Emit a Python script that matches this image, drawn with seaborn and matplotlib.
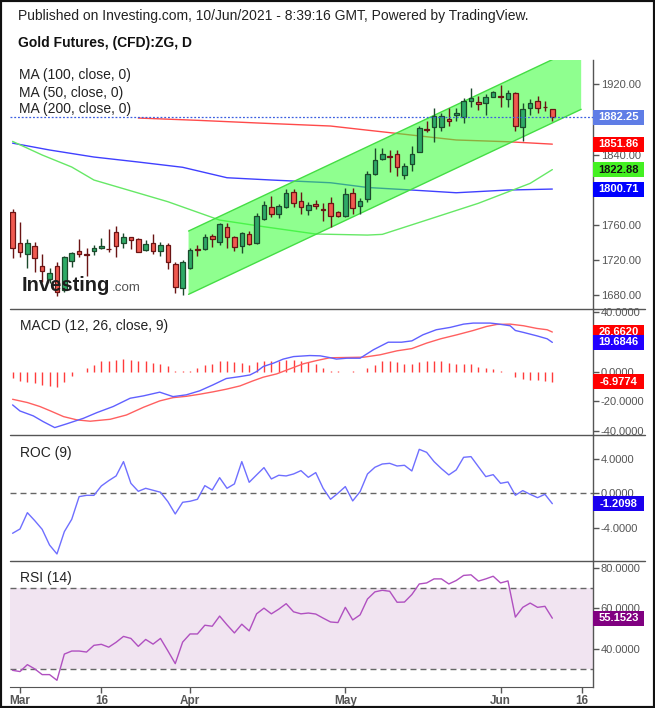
import numpy as np
import pandas as pd
import matplotlib
matplotlib.use("Agg")
import matplotlib.pyplot as plt
import seaborn as sns
from matplotlib.patches import Rectangle, Polygon
from matplotlib.lines import Line2D

sns.set_style("white")
plt.rcParams['font.family'] = ['Liberation Sans', 'DejaVu Sans']

# ---------------- DATA ----------------
opens = [1774.2, 1738.9, 1726.3, 1735.4, 1712.7, 1698.2, 1712.7, 1685.7, 1719.1, 1729.8,
         1726.3, 1730.5, 1733.9, 1732.8, 1751.4, 1739.6, 1745.7, 1743.8, 1730.9, 1739.2,
         1730.5, 1736.6, 1714.9, 1687.6, 1711.1, 1732.0, 1732.0, 1746.8, 1740.0, 1757.1,
         1745.7, 1735.5, 1749.1, 1738.9, 1766.2, 1779.9, 1772.7, 1780.6, 1797.0, 1787.1,
         1776.5, 1783.3, 1777.6, 1784.4, 1774.2, 1770.4, 1795.8, 1781.0, 1789.0, 1817.4,
         1835.3, 1837.9, 1840.2, 1816.3, 1828.8, 1843.3, 1869.5, 1871.7, 1871.7, 1880.1,
         1885.4, 1883.1, 1901.4, 1899.5, 1899.1, 1905.9, 1906.7, 1902.9, 1909.7, 1871.7,
         1893.4, 1901.4, 1894.5, 1891.5]
highs = [1778.0, 1762.8, 1743.8, 1740.0, 1726.3, 1711.1, 1718.0, 1724.8, 1729.4, 1743.8,
         1733.9, 1737.0, 1745.3, 1755.2, 1759.0, 1750.2, 1746.5, 1745.3, 1742.7, 1749.1,
         1740.0, 1738.9, 1717.2, 1719.9, 1733.9, 1737.0, 1749.5, 1749.1, 1762.4, 1761.6,
         1747.6, 1751.8, 1752.9, 1773.0, 1787.1, 1792.4, 1783.3, 1800.8, 1800.8, 1797.7,
         1785.6, 1787.8, 1784.4, 1791.3, 1775.7, 1802.3, 1802.3, 1790.1, 1821.3, 1847.1,
         1847.1, 1845.2, 1845.2, 1830.7, 1849.7, 1872.5, 1878.6, 1892.6, 1887.7, 1892.6,
         1892.6, 1904.8, 1915.4, 1906.7, 1908.9, 1912.8, 1919.2, 1913.5, 1910.8, 1899.1,
         1903.3, 1906.7, 1901.4, 1891.5]
lows = [1722.5, 1723.7, 1711.1, 1706.6, 1695.2, 1693.3, 1679.2, 1683.0, 1712.3, 1723.7,
        1702.0, 1725.6, 1732.0, 1728.6, 1723.7, 1733.2, 1732.0, 1728.6, 1730.1, 1726.3,
        1724.8, 1709.2, 1681.9, 1680.0, 1709.6, 1724.8, 1731.3, 1735.1, 1737.0, 1733.9,
        1730.1, 1727.5, 1737.0, 1738.1, 1765.4, 1769.2, 1767.3, 1779.5, 1780.6, 1772.7,
        1771.1, 1778.0, 1764.3, 1757.8, 1768.9, 1768.9, 1772.0, 1772.7, 1786.3, 1816.7,
        1833.8, 1820.5, 1815.9, 1811.7, 1821.6, 1843.3, 1866.0, 1854.7, 1867.2, 1872.9,
        1878.6, 1876.3, 1893.8, 1890.7, 1885.0, 1905.2, 1894.5, 1894.5, 1867.2, 1855.8,
        1885.0, 1887.7, 1890.0, 1878.2]
closes = [1733.9, 1728.6, 1738.9, 1721.8, 1707.4, 1704.7, 1683.0, 1722.9, 1727.5, 1727.1,
          1725.2, 1733.9, 1735.8, 1732.0, 1736.2, 1745.7, 1742.3, 1729.4, 1737.7, 1730.1,
          1737.0, 1717.2, 1688.7, 1718.0, 1731.3, 1730.9, 1745.7, 1743.4, 1760.5, 1746.5,
          1735.1, 1750.2, 1738.5, 1770.0, 1782.2, 1772.7, 1781.0, 1795.8, 1784.4, 1779.9,
          1782.2, 1781.0, 1776.5, 1770.4, 1769.6, 1794.7, 1778.7, 1787.1, 1817.5, 1833.4,
          1840.2, 1837.2, 1825.4, 1826.6, 1840.2, 1869.8, 1867.9, 1883.9, 1883.9, 1878.2,
          1887.3, 1901.0, 1904.0, 1897.6, 1905.2, 1910.9, 1905.2, 1909.7, 1872.9, 1891.5,
          1898.3, 1893.4, 1893.8, 1882.25]

# trading days (Feb 26 - Jun 10 2021, Good Friday closed)
dates = [d for d in pd.bdate_range("2021-02-26", "2021-06-30") if d != pd.Timestamp("2021-04-02")]
tick_dates = ["2021-03-01", "2021-03-16", "2021-04-01", "2021-05-03", "2021-06-01", "2021-06-16"]
tick_labels = ["Mar", "16", "Apr", "May", "Jun", "16"]

ma200_x = [17, 25, 33, 43, 47, 56, 60, 67, 73]
ma200_v = [1881.6, 1879.0, 1876.0, 1872.5, 1868.7, 1860.3, 1856.6, 1854.6, 1851.86]
ma100_x = [0, 5, 11, 17, 23, 29, 35, 43, 48, 54, 60, 67, 73]
ma100_v = [1853.0, 1845.2, 1837.2, 1831.5, 1825.5, 1813.6, 1811.0, 1807.9, 1802.5, 1799.6, 1796.5, 1799.6, 1800.71]
ma50_x = [0, 4, 8, 11, 21, 28, 34, 41, 48, 50, 56, 63, 70, 73]
ma50_v = [1855.0, 1839.5, 1825.8, 1811.0, 1786.3, 1765.4, 1757.8, 1749.5, 1748.3, 1749.1, 1765.4, 1784.5, 1807.2, 1822.88]

# trend channel (two anchor points of the lower line + parallel upper line)
chan_x = [23.8, 76.9]
chan_lower = [1680.8, 1891.5]
chan_upper = [1752.9, 1963.6]

# MACD
macd_x = [0, 1, 2.8, 4.15, 5.7, 7.3, 9.6, 11.4, 13.6, 15.9, 17.7, 19.9, 21.7, 23.5, 25.3, 27.1, 28.9,
          30.75, 32.1, 33, 33.9, 35.3, 36.6, 38, 40.2, 41.6, 42.9, 43.8, 45.2, 47, 48.8, 50.8, 52.6,
          54, 55.5, 57.3, 59.2, 61, 62.3, 64.6, 65.5, 67.3, 68, 69.1, 70.9, 72.3, 73]
macd_v = [-22.5, -26.6, -29.9, -33.8, -37.8, -35.3, -31.5, -27.7, -23.6, -18.0, -16.4, -13.9, -16.9,
          -15.7, -13.0, -9.0, -4.7, -3.4, -2.3, 0.0, 3.4, 5.7, 8.4, 10.1, 10.8, 10.6, 9.4, 8.4, 9.0,
          9.0, 14.7, 19.8, 19.8, 20.7, 24.8, 28.2, 29.8, 32.0, 32.7, 32.7, 32.2, 30.9, 27.7, 26.4,
          24.1, 22.1, 19.6846]
signal_x = [0, 2, 3.7, 5.05, 6.9, 8.7, 10.5, 13.2, 15.4, 17.7, 19.9, 21.7, 23.5, 25.3, 27.1, 28.9,
            30.75, 32.5, 33.9, 35.7, 37.5, 39.3, 41.1, 42.9, 45.2, 47.5, 49.7, 52, 54, 56, 57.9,
            60.1, 62.3, 64.1, 65.5, 67.3, 69.1, 70.9, 72.3, 73]
signal_v = [-18.7, -20.9, -23.6, -26.4, -30.4, -32.6, -33.5, -32.2, -29.3, -24.1, -19.8, -17.6,
            -16.7, -15.3, -13.7, -11.9, -9.7, -6.3, -3.8, -1.6, 1.8, 5.2, 7.4, 9.3, 9.5, 9.7, 11.3,
            14.0, 15.5, 19.2, 22.1, 24.8, 27.7, 30.4, 31.8, 32.0, 30.9, 29.1, 28.2, 26.662]
hist_v = [-4.5, -6.1, -6.8, -7.7, -9.0, -9.5, -10.1, -6.8, -2.7, 0.0,
          2.3, 4.5, 6.8, 7.4, 8.1, 8.6, 8.1, 7.4, 6.8, 5.9,
          5.2, 3.6, 0.7, 0.5, 0.7, 2.5, 4.1, 5.4, 7.2, 7.2,
          6.3, 5.9, 4.7, 6.3, 7.2, 7.2, 7.2, 8.1, 8.1, 7.2,
          6.3, 5.0, 2.3, 0.5, 0.4, 0.0, 0.4, 0.0, 2.3, 4.5,
          6.8, 7.2, 6.3, 5.2, 5.4, 6.3, 6.8, 7.2, 6.8, 5.6,
          5.2, 5.0, 5.2, 2.9, 2.3, 1.8, 0.7, 0.0, -3.8, -5.0,
          -5.6, -5.6, -6.1, -6.9774]

roc_v = [-4.66, -4.16, -2.26, -3.19, -4.20, -6.03, -7.07, -4.47, -3.03, -0.39,
         -0.24, -0.24, 0.85, 1.47, 2.02, 3.69, 1.16, 0.23, 0.58, 0.35,
         0.12, -0.97, -2.41, -1.05, -0.93, -0.70, 0.89, 0.38, 1.82, 0.58,
         1.09, 3.69, 1.28, 2.14, 2.99, 1.67, 2.10, 2.02, 2.25, 2.64,
         1.86, 2.41, 0.58, -0.70, 0.0, 0.78, -0.89, 0.19, 2.25, 3.03,
         3.41, 3.49, 3.18, 3.26, 2.60, 5.12, 4.77, 3.69, 2.87, 2.14,
         2.72, 4.19, 4.27, 3.10, 1.94, 2.17, 1.16, 1.32, -0.23, 0.31,
         -0.12, -0.51, -0.12, -1.2098]

rsi_v = [29.5, 28.9, 32.3, 30.2, 27.4, 27.4, 24.6, 37.5, 39.0, 39.0,
         38.5, 41.8, 42.3, 40.9, 43.3, 46.2, 45.2, 41.3, 44.7, 42.4,
         45.2, 39.1, 32.8, 43.4, 47.4, 47.4, 51.7, 51.2, 56.2, 51.9,
         47.9, 52.2, 48.9, 57.3, 60.1, 57.3, 59.6, 62.3, 58.3, 57.3,
         57.7, 57.2, 55.2, 53.3, 53.0, 60.5, 54.3, 56.8, 64.6, 68.1,
         68.9, 68.4, 63.0, 63.1, 66.8, 72.0, 72.5, 74.5, 74.5, 72.0,
         73.7, 76.2, 76.5, 73.4, 74.5, 75.8, 72.5, 73.5, 55.7, 60.5,
         62.6, 60.5, 61.0, 55.1523]

# axis ticks ('' where the reference's label is hidden under a value box)
price_ticks = [1680, 1720, 1760, 1800, 1840, 1880, 1920]
price_tick_labels = ["1680.00", "1720.00", "1760.00", "", "1840.00", "", "1920.00"]
macd_ticks = [-40, -20, 0, 20, 40]
macd_tick_labels = ["-40.0000", "-20.0000", "0.0000", "", "40.0000"]
roc_ticks = [-4, 0, 4]
roc_tick_labels = ["-4.0000", "0.0000", "4.0000"]
rsi_ticks = [40, 60, 80]
rsi_tick_labels = ["40.0000", "60.0000", "80.0000"]

# ---------------- FIGURE ----------------
W, H = 655, 708
fig = plt.figure(figsize=(W / 100, H / 100), dpi=100)
fig.patch.set_facecolor("white")

LEFT, RIGHT = 10, 593
GREY = "#555555"


def rect(top, bottom):
    return [LEFT / W, 1 - bottom / H, (RIGHT - LEFT) / W, (bottom - top) / H]


ax_p = fig.add_axes(rect(60, 309))
ax_m = fig.add_axes(rect(309, 435))
ax_r = fig.add_axes(rect(435, 561))
ax_s = fig.add_axes(rect(561, 687))

xlim = (-0.35, 78.5)
n = len(closes)
idx = np.arange(n)

for ax in (ax_p, ax_m, ax_r, ax_s):
    ax.set_xlim(*xlim)
    ax.set_facecolor("none")
    for s in ("left", "top", "bottom"):
        ax.spines[s].set_visible(False)
    ax.spines["right"].set_color(GREY)
    ax.spines["right"].set_linewidth(1)
    ax.yaxis.tick_right()
    ax.tick_params(axis="y", length=4, width=1, color=GREY, labelsize=8,
                   labelcolor=GREY, pad=1.5)
    ax.tick_params(axis="x", bottom=False, labelbottom=False)
    ax.grid(False)

# ---------- price panel ----------
ax_p.set_ylim(1664.1, 1947.7)
ax_p.set_yticks(price_ticks)
ax_p.set_yticklabels(price_tick_labels)

sns.lineplot(x=ma200_x, y=ma200_v, ax=ax_p, color="#ff4a4a", linewidth=1, zorder=2)
sns.lineplot(x=ma100_x, y=ma100_v, ax=ax_p, color="#4040ff", linewidth=1, zorder=2)
sns.lineplot(x=ma50_x, y=ma50_v, ax=ax_p, color="#66e866", linewidth=1, zorder=2)

poly = Polygon([(chan_x[0], chan_lower[0]), (chan_x[1], chan_lower[1]),
                (chan_x[1], chan_upper[1]), (chan_x[0], chan_upper[0])],
               closed=True, facecolor=(0.2, 1.0, 0.2), alpha=0.55, edgecolor="none", zorder=3)
ax_p.add_patch(poly)
ax_p.plot(chan_x, chan_lower, color="#44dd44", lw=1, zorder=3)
ax_p.plot(chan_x, chan_upper, color="#44dd44", lw=1, zorder=3)

o = np.array(opens); c = np.array(closes); h = np.array(highs); l = np.array(lows)
up = c >= o
fill = np.where(up, "#2eaa66", "#f05a50")
edge = np.where(up, "#1b4a2c", "#6a1414")
ax_p.vlines(idx, l, h, colors=edge, linewidth=1, zorder=4)
body = np.maximum(np.abs(c - o), 0.9)
ax_p.bar(idx, body, bottom=np.minimum(o, c), width=0.62, color=fill,
         edgecolor=edge, linewidth=0.9, zorder=5)

ax_p.axhline(closes[-1], color="#3b5fe0", lw=0.9, ls=(0, (1.5, 1.5)), zorder=6)

# ---------- MACD panel ----------
ax_m.set_ylim(-42.8, 42.2)
ax_m.set_yticks(macd_ticks)
ax_m.set_yticklabels(macd_tick_labels)
hv = np.array(hist_v)
ax_m.vlines(idx[hv != 0], 0, hv[hv != 0], colors="#ff3b3b", linewidth=1, zorder=2)
sns.lineplot(x=signal_x, y=signal_v, ax=ax_m, color="#ff6060", linewidth=1, zorder=3)
sns.lineplot(x=macd_x, y=macd_v, ax=ax_m, color="#6060ff", linewidth=1, zorder=3)

# ---------- ROC panel ----------
ax_r.set_ylim(-7.89, 6.79)
ax_r.set_yticks(roc_ticks)
ax_r.set_yticklabels(roc_tick_labels)
ax_r.axhline(0, color="#666666", lw=1, ls=(0, (4.3, 2.9)), zorder=1)
sns.lineplot(x=idx, y=roc_v, ax=ax_r, color="#6f6fff", linewidth=1, zorder=3)

# ---------- RSI panel ----------
ax_s.set_ylim(21.3, 83.3)
ax_s.set_yticks(rsi_ticks)
ax_s.set_yticklabels(rsi_tick_labels)
ax_s.axhspan(30, 70, color="#f1e4f1", zorder=0, lw=0)
ax_s.axhline(30, color="#666666", lw=1, ls=(0, (4.3, 2.9)), zorder=1)
ax_s.axhline(70, color="#666666", lw=1, ls=(0, (4.3, 2.9)), zorder=1)
sns.lineplot(x=idx, y=rsi_v, ax=ax_s, color="#b050c0", linewidth=1, zorder=3)

date_index = {d.strftime("%Y-%m-%d"): i for i, d in enumerate(dates)}
ax_s.spines["bottom"].set_visible(True)
ax_s.spines["bottom"].set_color(GREY)
ax_s.set_xticks([date_index[d] for d in tick_dates])
ax_s.set_xticklabels(tick_labels)
ax_s.tick_params(axis="x", bottom=True, labelbottom=True, length=4, width=1, color=GREY,
                 labelsize=8.5, labelcolor=GREY, pad=2)
for t in ax_s.get_xticklabels():
    t.set_fontweight("bold")

# ---------- separators ----------
for yy in (309, 435, 561):
    fig.add_artist(Line2D([LEFT / W, 645 / W], [1 - yy / H, 1 - yy / H],
                          color=GREY, lw=1, transform=fig.transFigure))

# ---------- texts ----------
fig.text(18 / W, 1 - 16 / H, "Published on Investing.com, 10/Jun/2021 - 8:39:16 GMT, Powered by TradingView.",
         fontsize=10, color="#222222", va="center", ha="left")
fig.text(18 / W, 1 - 43.5 / H, "Gold Futures, (CFD):ZG, D", fontsize=10, fontweight="bold",
         color="#111111", va="center", ha="left")
for k, s in enumerate(["MA (100, close, 0)", "MA (50, close, 0)", "MA (200, close, 0)"]):
    fig.text(19 / W, 1 - (75.5 + 17 * k) / H, s, fontsize=10, color="#222222", va="center")
fig.text(20 / W, 1 - 326 / H, "MACD (12, 26, close, 9)", fontsize=10, color="#222222", va="center")
fig.text(20 / W, 1 - 452.7 / H, "ROC (9)", fontsize=10, color="#222222", va="center")
fig.text(20 / W, 1 - 578.3 / H, "RSI (14)", fontsize=10, color="#222222", va="center")

fig.text(22 / W, 1 - 291 / H, "Investing", fontsize=14.5, fontweight="bold", color="#1e1e1e",
         va="baseline", ha="left", zorder=5)
fig.text(112 / W, 1 - 291 / H, ".com", fontsize=9.6, color="#555555", va="baseline", ha="left", zorder=5)

# ---------- last value labels ----------
fig.canvas.draw()


def value_label(ax, value, text, bg, fg="white"):
    yd = ax.transData.transform((0, value))[1]
    yf = yd / fig.bbox.height
    fig.add_artist(Rectangle((593 / W, yf - 7.5 / H), 51 / W, 15 / H, transform=fig.transFigure,
                             facecolor=bg, edgecolor="none", zorder=4))
    fig.text(618.5 / W, yf, text, fontsize=8, fontweight="bold", color=fg,
             ha="center", va="center", zorder=5)


value_label(ax_p, closes[-1], f"{closes[-1]:.2f}", "#5f7de6")
value_label(ax_p, ma200_v[-1], f"{ma200_v[-1]:.2f}", "#ff0000")
value_label(ax_p, ma50_v[-1], f"{ma50_v[-1]:.2f}", "#44f022", fg="#111111")
value_label(ax_p, ma100_v[-1], f"{ma100_v[-1]:.2f}", "#0000ff")
value_label(ax_m, signal_v[-1], f"{signal_v[-1]:.4f}", "#ff0000")
value_label(ax_m, macd_v[-1], f"{macd_v[-1]:.4f}", "#2200ff")
value_label(ax_m, hist_v[-1], f"{hist_v[-1]:.4f}", "#ff0000")
value_label(ax_r, roc_v[-1], f"{roc_v[-1]:.4f}", "#1a00ee")
value_label(ax_s, rsi_v[-1], f"{rsi_v[-1]:.4f}", "#800080")

# outer frame
fig.add_artist(Rectangle((0, 0), 1, 1, transform=fig.transFigure, fill=False,
                         edgecolor="#111111", lw=3, zorder=10))

fig.savefig("out.png", dpi=100, facecolor="white")
